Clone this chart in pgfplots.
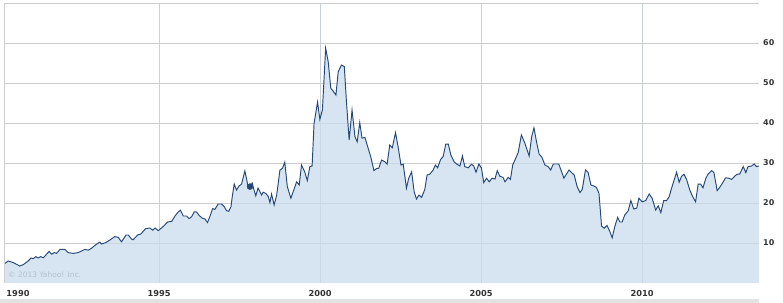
\documentclass[border=0pt]{standalone}
\usepackage{fontspec}
\setmainfont{DejaVu Sans}
\usepackage{pgfplots}
\usepackage{pgfplotstable}
\pgfplotsset{compat=1.18}
\definecolor{fillblue}{RGB}{200,220,236}
\definecolor{lineblue}{RGB}{37,72,120}
\definecolor{gridgray}{RGB}{205,205,205}
\definecolor{vgrid}{RGB}{200,208,216}
\definecolor{labelgray}{RGB}{51,51,51}
\definecolor{wmgray}{RGB}{178,192,208}
\pgfplotstableread{
x y
1990.18 4.75
1990.31 5.5
1990.47 5.1
1990.55 4.75
1990.67 4.25
1990.78 4.6
1990.93 5.5
1991.02 6.25
1991.09 6.1
1991.17 6.6
1991.24 6.25
1991.32 6.6
1991.40 6.3
1991.48 7
1991.58 7.9
1991.66 7.2
1991.74 7.6
1991.81 7.4
1991.92 8.4
1992.07 8.4
1992.17 7.6
1992.33 7.4
1992.48 7.6
1992.59 8
1992.69 8.4
1992.80 8.2
1992.90 8.7
1993.06 9.75
1993.16 10.2
1993.21 9.75
1993.34 10.1
1993.47 10.75
1993.62 11.6
1993.73 11.4
1993.83 10.3
1993.97 12
1994.04 12
1994.14 11
1994.19 10.8
1994.33 12
1994.43 12.25
1994.58 13.6
1994.71 13.75
1994.80 13.2
1994.87 13.75
1994.97 13.1
1995.05 13.6
1995.16 14.4
1995.26 15.25
1995.39 15.4
1995.49 16.75
1995.59 17.75
1995.66 18.2
1995.75 16.75
1995.85 16.75
1995.93 16.1
1996.01 16.6
1996.09 17.8
1996.16 17.75
1996.24 16.9
1996.34 16.2
1996.42 16
1996.50 15.1
1996.58 16.75
1996.66 18.6
1996.73 18.4
1996.83 19.75
1996.94 19.75
1997.02 19.1
1997.09 18.1
1997.16 17.9
1997.23 19.1
1997.27 21.6
1997.33 24.75
1997.40 23.25
1997.48 24.25
1997.56 24.75
1997.66 28
1997.71 26.2
1997.76 24.1
1997.82 24.1
1997.89 25
1997.94 23.4
1998.00 21.8
1998.07 23.75
1998.18 22
1998.23 22.7
1998.31 22.4
1998.39 21.6
1998.44 20.1
1998.49 22.25
1998.57 19.5
1998.65 22
1998.75 28.2
1998.83 28.7
1998.90 30.2
1998.98 24.1
1999.09 21.2
1999.16 22.8
1999.27 25.3
1999.35 24.5
1999.42 29.5
1999.52 27.8
1999.60 25.6
1999.68 29.1
1999.75 29.25
1999.81 39.9
1999.92 45.25
1999.99 40.9
2000.07 43.25
2000.17 58.7
2000.25 55.3
2000.33 48.7
2000.40 48
2000.49 47
2000.56 52.8
2000.66 54.5
2000.75 54.1
2000.82 44.9
2000.90 35.75
2000.99 43.25
2001.08 36.6
2001.15 35.3
2001.23 40.1
2001.30 36.2
2001.39 36.4
2001.46 34.5
2001.57 31.6
2001.67 28.1
2001.75 28.6
2001.82 28.7
2001.91 30.75
2002.01 30.3
2002.08 29.7
2002.16 34.5
2002.24 33.8
2002.34 37.6
2002.42 34.1
2002.51 29.5
2002.58 29.7
2002.68 23.7
2002.75 26.2
2002.84 27.8
2002.92 22.8
2002.99 21
2003.07 22
2003.15 21.4
2003.25 23.4
2003.32 27
2003.41 27.25
2003.51 28.25
2003.58 29.5
2003.65 28.8
2003.74 30.9
2003.82 31.6
2003.90 34.7
2003.98 34.7
2004.06 32
2004.16 30.3
2004.24 29.75
2004.34 29.25
2004.42 31.75
2004.49 29.1
2004.60 28.8
2004.70 29.7
2004.77 29.25
2004.84 27.7
2004.93 29.75
2005.01 28.7
2005.08 25.1
2005.17 26.2
2005.25 25.3
2005.34 26.2
2005.43 26
2005.50 28.1
2005.58 26.7
2005.68 26.4
2005.74 25.3
2005.84 26.4
2005.91 25.9
2005.98 29.5
2006.05 30.75
2006.15 32.6
2006.25 37
2006.36 34.9
2006.49 31.75
2006.57 36.6
2006.64 38.8
2006.72 35.3
2006.80 32.25
2006.89 31.4
2006.98 29.5
2007.08 29.1
2007.16 28.25
2007.24 29.75
2007.34 29.75
2007.41 29.75
2007.50 27.8
2007.57 26.2
2007.65 27.25
2007.73 28.25
2007.81 27.6
2007.89 27
2007.98 24.1
2008.07 22.6
2008.14 23.4
2008.24 28.25
2008.32 27.7
2008.41 24.5
2008.50 24.25
2008.58 23.9
2008.66 22.4
2008.74 14.25
2008.82 13.7
2008.91 14.4
2009.00 12.8
2009.07 11.3
2009.15 14.1
2009.24 16.4
2009.31 15.25
2009.38 15.25
2009.46 17
2009.57 18.1
2009.65 20.6
2009.74 18.5
2009.83 18.7
2009.90 21.2
2010.00 20.3
2010.11 20.6
2010.22 22.25
2010.31 21.2
2010.42 18.25
2010.50 19.3
2010.58 17.6
2010.67 20.6
2010.76 20.6
2010.84 21.6
2010.93 24.1
2011.07 27.7
2011.15 25.2
2011.22 26.6
2011.30 27.2
2011.38 25.9
2011.48 23.25
2011.57 21.6
2011.66 20.3
2011.74 24.7
2011.82 24.7
2011.89 23.8
2011.98 26.2
2012.05 27.25
2012.16 28.1
2012.23 27.6
2012.33 23.1
2012.41 23.9
2012.52 25.3
2012.59 26.3
2012.69 26.2
2012.78 25.9
2012.88 26.75
2012.96 27.25
2013.03 27.2
2013.14 29.1
2013.22 27.6
2013.29 29.1
2013.40 29.25
2013.48 29.75
2013.55 29.1
2013.63 29.25
}\pricedata
\begin{document}
\begin{tikzpicture}
\path[use as bounding box] (-4bp,-20bp) rectangle (779bp,283bp);
\fill[gray!22] (-4bp,-20bp) rectangle (755bp,-16bp);
\begin{axis}[
  scale only axis, width=755bp, height=280bp,
  xmin=1990.18, xmax=2013.63, ymin=0, ymax=70,
  axis x line*=bottom, axis y line*=right,
  axis line style={draw=none},
  xtick={1995,2000,2005,2010},
  xticklabels={1995,2000,2005,2010},
  ytick={10,20,30,40,50,60},
  major tick length=0pt,
  xmajorgrids, ymajorgrids,
  x grid style={vgrid, line width=0.8bp},
  y grid style={gridgray, line width=0.8bp},
  /pgf/number format/assume math mode=true,
  xticklabel style={font=\bfseries\fontsize{8.3}{10}\selectfont, text=labelgray, inner sep=0pt, anchor=north, yshift=-7bp},
  yticklabel style={font=\bfseries\fontsize{8}{10}\selectfont, text=labelgray, inner sep=0pt, anchor=west, xshift=4bp},
  clip=false,
]
\addplot[draw=none, fill=fillblue, fill opacity=0.75] table[x=x,y=y] {\pricedata} \closedcycle;
\addplot[lineblue, line width=0.95bp] table[x=x,y=y] {\pricedata};
\addplot[only marks, mark=*, mark size=3bp, color=lineblue] coordinates {(1997.82,24.1)};
\draw[gridgray, line width=0.8bp] (rel axis cs:0,0) -- (rel axis cs:0,1) -- (rel axis cs:1,1);
\node[anchor=north, inner sep=0pt, font=\bfseries\fontsize{8.3}{10}\selectfont, text=labelgray] at ([xshift=14bp,yshift=-7bp]rel axis cs:0,0) {1990};
\node[anchor=south west, inner sep=0pt, font=\fontsize{7.5}{9}\selectfont, text=wmgray] at ([xshift=4bp,yshift=5bp]rel axis cs:0,0) {© 2013 Yahoo! Inc.};
\end{axis}
\end{tikzpicture}
\end{document}
